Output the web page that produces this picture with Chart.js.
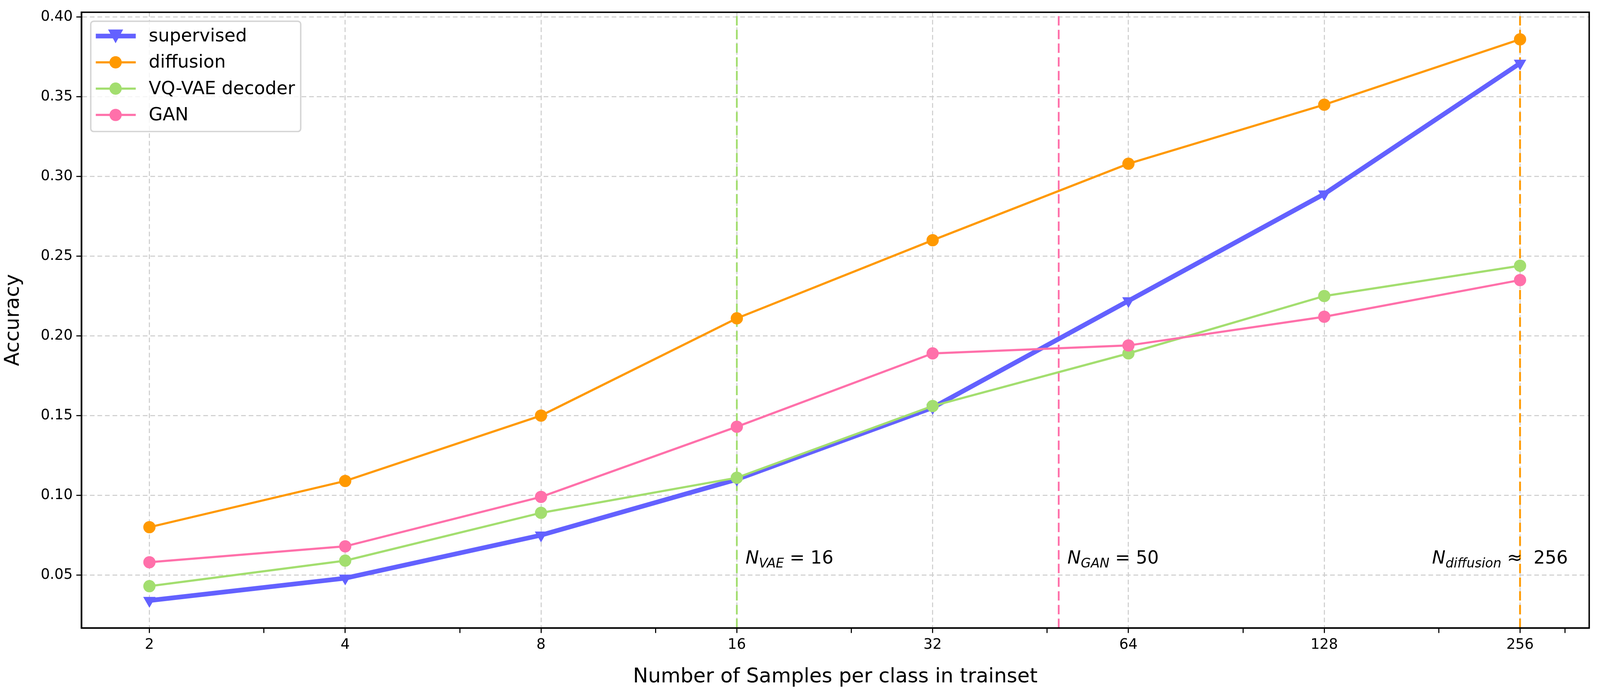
<!DOCTYPE html>
<html><head><meta charset="utf-8">
<script src="https://cdn.jsdelivr.net/npm/chart.js@4"></script>
<style>html,body{margin:0;padding:0;background:#fff;overflow:hidden}#w{position:relative;width:100vw;height:100vh}</style>
</head><body>
<div id="w"><canvas id="c"></canvas></div>
<script>
const samples = [2, 4, 8, 16, 32, 64, 128, 256];
const supervised = [0.034, 0.048, 0.075, 0.110, 0.155, 0.222, 0.289, 0.371];
const diffusion = [0.080, 0.109, 0.150, 0.211, 0.260, 0.308, 0.345, 0.386];
const vqvae = [0.043, 0.059, 0.089, 0.111, 0.156, 0.189, 0.225, 0.244];
const gan = [0.058, 0.068, 0.099, 0.143, 0.189, 0.194, 0.212, 0.235];
const yTicks = [0.05, 0.10, 0.15, 0.20, 0.25, 0.30, 0.35, 0.40];
const minorX = [3, 6, 12, 24, 48, 96, 192, 300];
const thresholds = [
  {x: 16, color: '#a3de6f', sub: 'VAE', op: '= 16', align: 'left'},
  {x: 50, color: '#ff70aa', sub: 'GAN', op: '= 50', align: 'left'},
  {x: 256, color: '#ff9900', sub: 'diffusion', op: '\u2248  256', align: 'right'}
];
const YMIN = 0.0168, YMAX = 0.403;
const F = 'DejaVu Sans';
const k = window.innerWidth / 4443;
const series = [
  {label: 'supervised', data: supervised, color: '#6361ff', w: 13, style: 'triangle', rot: 180, r: 20},
  {label: 'diffusion', data: diffusion, color: '#ff9900', w: 6, style: 'circle', rot: 0, r: 17},
  {label: 'VQ-VAE decoder', data: vqvae, color: '#a3de6f', w: 6, style: 'circle', rot: 0, r: 17},
  {label: 'GAN', data: gan, color: '#ff70aa', w: 6, style: 'circle', rot: 0, r: 17}
];
const datasets = [];
thresholds.forEach(t => datasets.push({
  label: '_v', data: [{x: t.x, y: YMIN}, {x: t.x, y: YMAX}], borderColor: t.color,
  borderWidth: 5 * k, borderDash: [26 * k, 12 * k], pointRadius: 0, order: 10
}));
series.slice().reverse().forEach(s => datasets.push({
  label: s.label, data: s.data.map((v, i) => ({x: samples[i], y: v})),
  borderColor: s.color, backgroundColor: s.color, borderWidth: s.w * k,
  pointStyle: s.style, rotation: s.rot, pointRadius: s.r * k, pointBorderWidth: 0, pointHoverRadius: s.r * k
}));
const overlay = {
  id: 'overlay',
  afterDatasetsDraw(chart) {
    const ctx = chart.ctx, a = chart.chartArea, xs = chart.scales.x, ys = chart.scales.y;
    ctx.save();
    thresholds.forEach(t => {
      const px = xs.getPixelForValue(t.x), py = ys.getPixelForValue(0.06);
      ctx.fillStyle = '#000'; ctx.textBaseline = 'middle';
      const fN = 'italic ' + 50 * k + 'px ' + F, fS = 'italic ' + 36 * k + 'px ' + F, fO = 50 * k + 'px ' + F;
      ctx.font = fN; const wN = ctx.measureText('N').width;
      ctx.font = fS; const wS = ctx.measureText(t.sub).width;
      ctx.font = fO; const wO = ctx.measureText(' ' + t.op).width;
      const x0 = t.align === 'left' ? px + 24 * k : px + 133 * k - (wN + wS + wO);
      ctx.textAlign = 'left';
      ctx.font = fN; ctx.fillText('N', x0, py);
      ctx.font = fS; ctx.fillText(t.sub, x0 + wN, py + 14 * k);
      ctx.font = fO; ctx.fillText(' ' + t.op, x0 + wN + wS, py);
    });
    ctx.fillStyle = 'rgba(255,255,255,0.8)'; ctx.strokeStyle = '#d5d5d5'; ctx.lineWidth = 4 * k;
    ctx.beginPath(); ctx.roundRect(252 * k, 59 * k, 583 * k, 306 * k, 8 * k); ctx.fill(); ctx.stroke();
    series.forEach((s, i) => {
      const y = (100 + i * 73) * k;
      ctx.strokeStyle = s.color; ctx.lineWidth = s.w * k;
      ctx.beginPath(); ctx.moveTo(266 * k, y); ctx.lineTo(377 * k, y); ctx.stroke();
      ctx.fillStyle = s.color; ctx.beginPath();
      if (s.style === 'circle') ctx.arc(321 * k, y, 17 * k, 0, Math.PI * 2);
      else { ctx.moveTo(300 * k, y - 18 * k); ctx.lineTo(342 * k, y - 18 * k); ctx.lineTo(321 * k, y + 20 * k); ctx.closePath(); }
      ctx.fill();
      ctx.fillStyle = '#000'; ctx.font = 50 * k + 'px ' + F; ctx.textAlign = 'left'; ctx.textBaseline = 'middle';
      ctx.fillText(s.label, 413 * k, y + 2 * k);
    });
    ctx.strokeStyle = '#000'; ctx.lineWidth = 4 * k;
    ctx.strokeRect(a.left, a.top, a.right - a.left, a.bottom - a.top);
    ctx.restore();
  }
};
new Chart(document.getElementById('c'), {
  type: 'line',
  data: {datasets},
  plugins: [overlay],
  options: {
    responsive: true, maintainAspectRatio: false, animation: false,
    layout: {padding: {top: 34 * k, right: 30 * k, left: 0, bottom: 0}},
    plugins: {legend: {display: false}, tooltip: {enabled: false}},
    scales: {
      x: {
        type: 'logarithmic', min: 1.572, max: 327,
        afterBuildTicks: s => { s.ticks = samples.concat(minorX).map(v => ({value: v})); },
        afterFit: s => { s.height = 175 * k; },
        ticks: {autoSkip: false, maxRotation: 0, color: '#000', font: {family: F, size: 40 * k}, padding: 10 * k,
          callback: v => samples.includes(v) ? String(v) : ''},
        grid: {color: c => samples.includes(c.tick && c.tick.value) ? '#cfcfcf' : 'rgba(0,0,0,0)',
          lineWidth: 3 * k, tickColor: '#000', tickLength: 14 * k},
        border: {display: true, color: '#000', width: 4 * k, dash: [13 * k, 8 * k]},
        title: {display: true, text: 'Number of Samples per class in trainset', color: '#000', font: {family: F, size: 56 * k}, padding: {top: 8 * k}}
      },
      y: {
        min: YMIN, max: YMAX,
        afterBuildTicks: s => { s.ticks = yTicks.map(v => ({value: v})); },
        afterFit: s => { s.width = 226 * k; },
        ticks: {color: '#000', font: {family: F, size: 40 * k}, padding: 10 * k, callback: v => v.toFixed(2)},
        grid: {color: '#cfcfcf', lineWidth: 3 * k, tickColor: '#000', tickLength: 14 * k},
        border: {display: true, color: '#000', width: 4 * k, dash: [13 * k, 8 * k]},
        title: {display: true, text: 'Accuracy', color: '#000', font: {family: F, size: 56 * k}, padding: {bottom: 10 * k}}
      }
    }
  }
});
</script>
</body></html>
